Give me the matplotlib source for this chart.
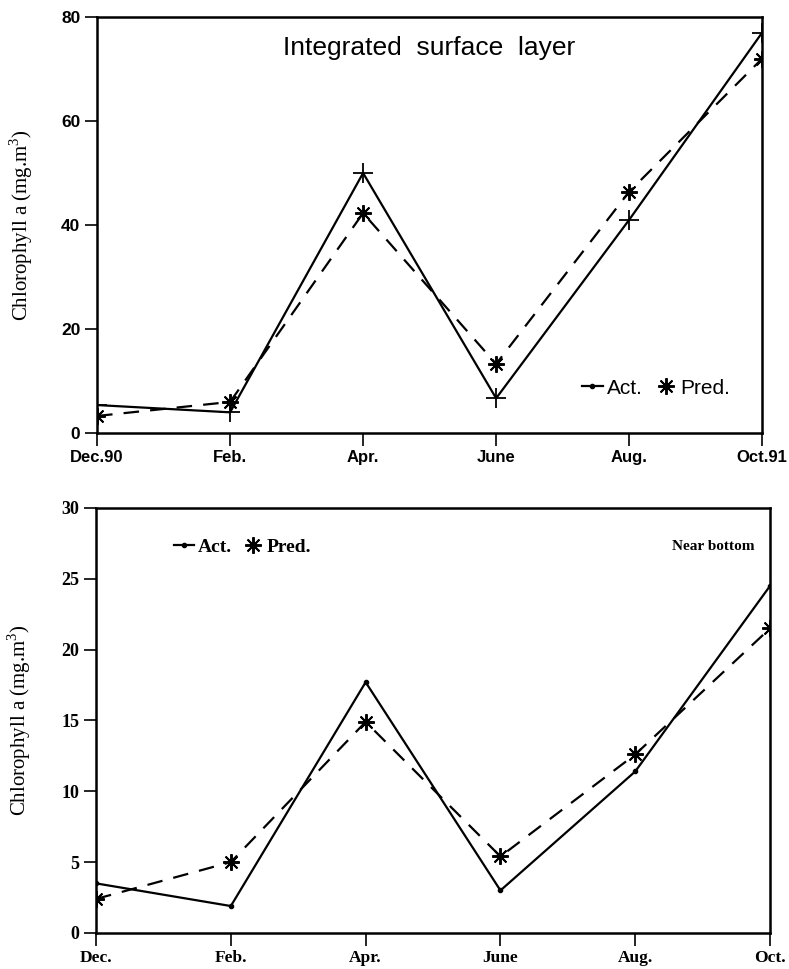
import numpy as np
import matplotlib.pyplot as plt
from matplotlib.lines import Line2D

# sampling months, shared by both panels
months = [0, 1, 2, 3, 4, 5]
top_labels = ['Dec.90', 'Feb.', 'Apr.', 'June', 'Aug.', 'Oct.91']
bot_labels = ['Dec.', 'Feb.', 'Apr.', 'June', 'Aug.', 'Oct.']

# integrated surface layer
surf_act = [5.4, 4.0, 50.0, 6.7, 41.0, 77.0]
surf_pred = [3.3, 6.0, 42.3, 13.3, 46.4, 72.0]

# near bottom
bot_act = [3.5, 1.9, 17.7, 3.0, 11.4, 24.5]
bot_pred = [2.4, 5.0, 14.9, 5.4, 12.6, 21.5]

ASTER = (8, 2, 0)
DASH = (0, (7, 5))
SERIF = 'Liberation Serif'
SANS = 'Liberation Sans'

fig = plt.figure(figsize=(7.89, 9.69), dpi=100)


def style_axes(ax, ymax, ystep, xlabels, family, fs):
    ax.set_xlim(0, 5)
    ax.set_ylim(0, ymax)
    ax.set_xticks(months)
    ax.set_xticklabels(xlabels, family=family, weight='bold', fontsize=fs)
    ax.set_yticks(np.arange(0, ymax + 1, ystep))
    ax.set_yticklabels([str(v) for v in np.arange(0, ymax + 1, ystep)],
                       family=family, weight='bold', fontsize=fs + 0.5)
    ax.tick_params(direction='out', length=9, width=1.2, pad=3)
    for sp in ax.spines.values():
        sp.set_linewidth(1.8)
    ax.set_ylabel('Chlorophyll a (mg.m$^{\\mathregular{3}}$)', family=SERIF, fontsize=15)
    ax.yaxis.set_label_coords(-0.093, 0.5)


def legend_handles(act_marker):
    h1 = Line2D([], [], color='black', lw=1.6, marker=act_marker, markersize=3)
    h2 = Line2D([], [], color='black', lw=0, marker=ASTER, markersize=12, markeredgewidth=1.4)
    return [h1, h2]


# top panel
ax1 = fig.add_axes([0.123, 0.553, 0.843, 0.4295])
ax1.plot(months, surf_act, color='black', lw=1.6, marker='+', markersize=14, markeredgewidth=1.3)
ax1.plot(months, surf_pred, color='black', lw=1.6, linestyle=DASH,
         marker=ASTER, markersize=12, markeredgewidth=1.4)
style_axes(ax1, 80, 20, top_labels, SANS, 12)
ax1.text(0.5, 0.925, 'Integrated  surface  layer', transform=ax1.transAxes,
         ha='center', va='center', family=SANS, fontsize=19)
ax1.legend(legend_handles('o'), ['Act.', 'Pred.'], ncol=2, frameon=False,
           loc='lower right', bbox_to_anchor=(0.98, 0.04), handlelength=1.0,
           handletextpad=0.2, columnspacing=0.6, prop={'family': SANS, 'size': 15})

# bottom panel
ax2 = fig.add_axes([0.1217, 0.0372, 0.8543, 0.4386])
ax2.plot(months, bot_act, color='black', lw=1.6, marker='o', markersize=3)
ax2.plot(months, bot_pred, color='black', lw=1.6, linestyle=DASH,
         marker=ASTER, markersize=12, markeredgewidth=1.4)
style_axes(ax2, 30, 5, bot_labels, SERIF, 12.5)
ax2.text(0.915, 0.91, 'Near bottom', transform=ax2.transAxes,
         ha='center', va='center', family=SERIF, weight='bold', fontsize=11)
ax2.legend(legend_handles('o'), ['Act.', 'Pred.'], ncol=2, frameon=False,
           loc='upper left', bbox_to_anchor=(0.09, 0.97), handlelength=1.0,
           handletextpad=0.2, columnspacing=0.6, prop={'family': SERIF, 'weight': 'bold', 'size': 14})

fig.savefig('out.png', dpi=100)
